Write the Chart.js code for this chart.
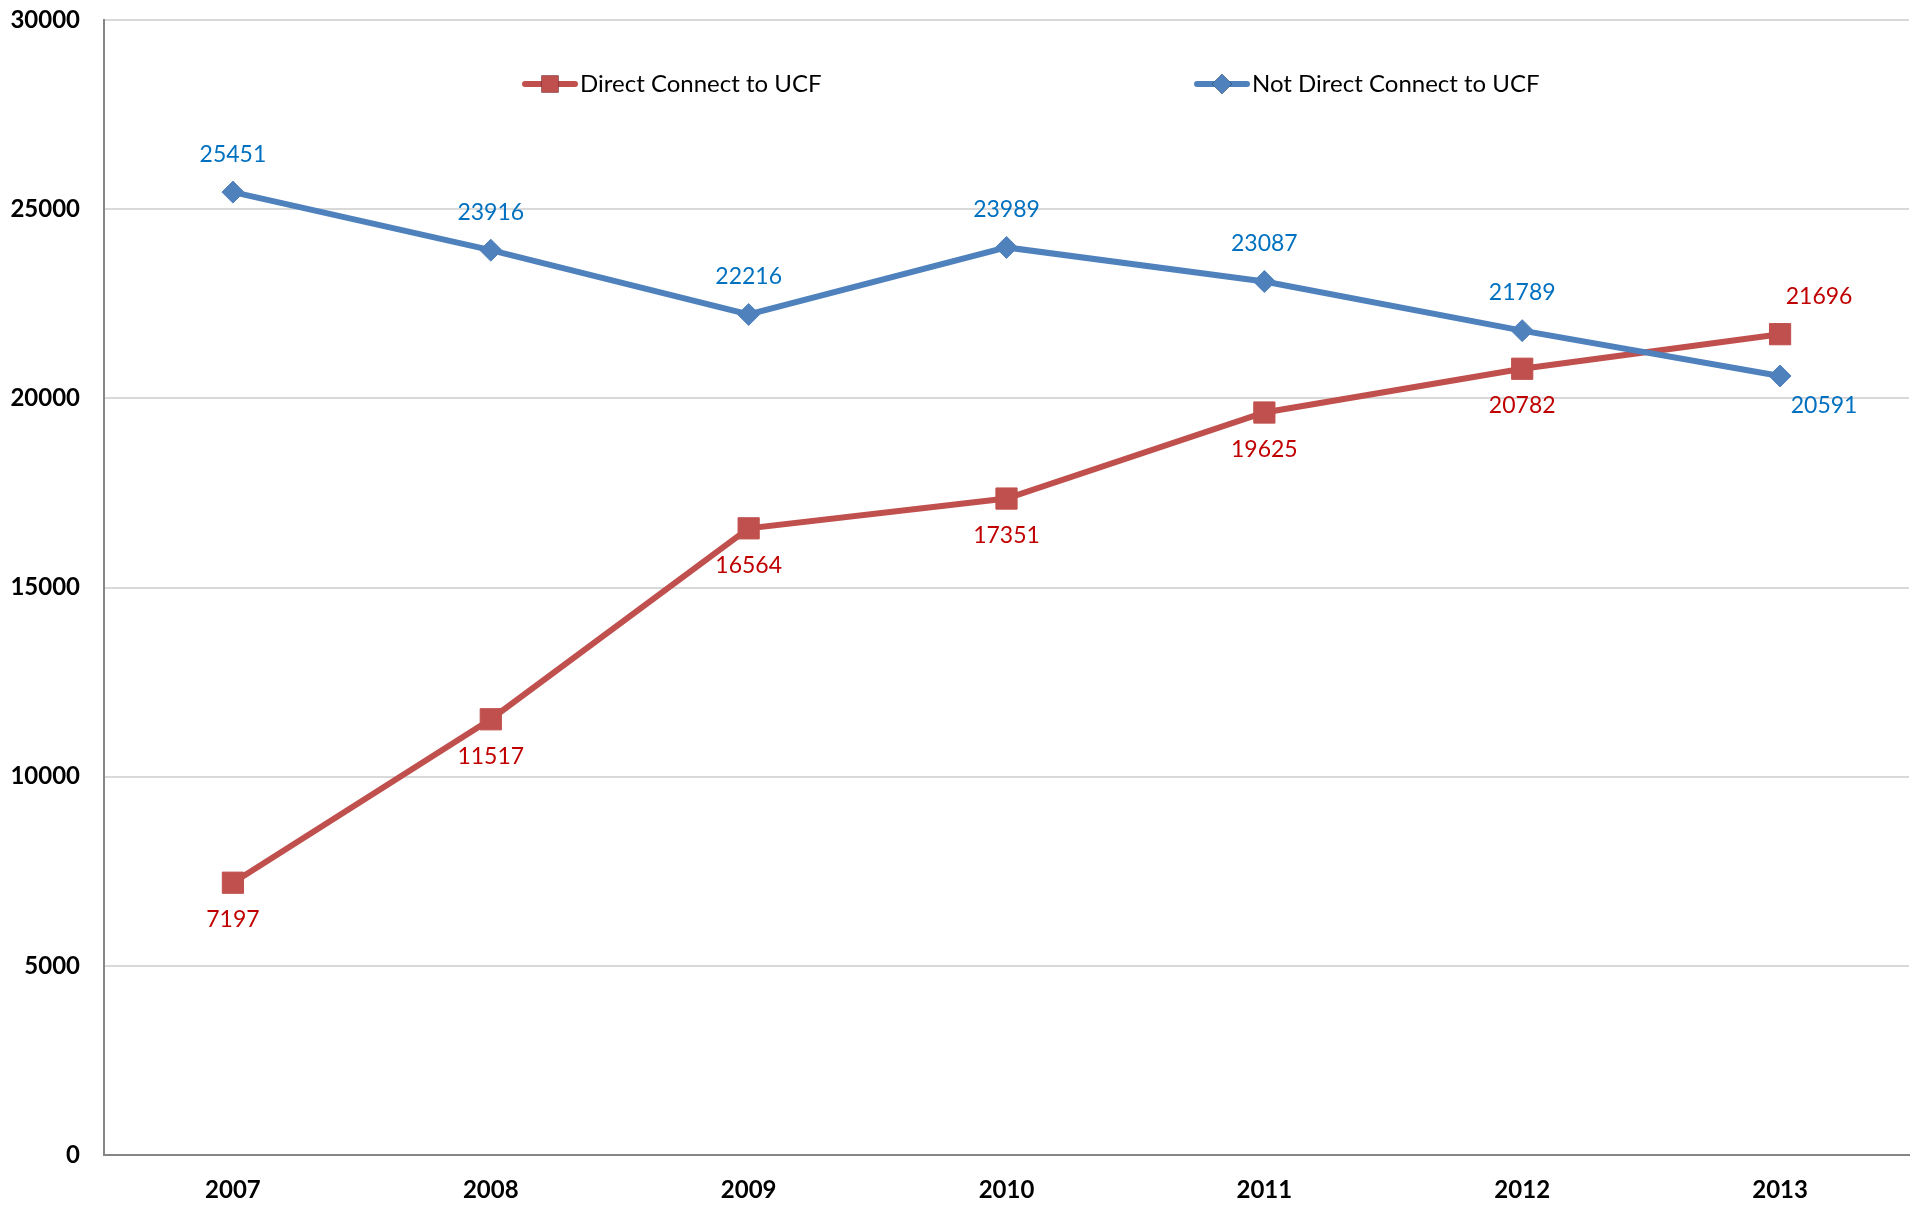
<!DOCTYPE html>
<html>
<head>
<meta charset="utf-8">
<title>Direct Connect to UCF</title>
<script src="https://cdn.jsdelivr.net/npm/chart.js@4.4.1/dist/chart.umd.min.js"></script>
<style>
	html, body { margin: 0; padding: 0; background: #fff; overflow: hidden; }
	#wrap { width: 1925px; height: 1205px; }
	canvas { display: block; }
</style>
</head>
<body>
<div id="wrap"><canvas id="chart"></canvas></div>
<script>
const years = ["2007", "2008", "2009", "2010", "2011", "2012", "2013"];
const direct = [7197, 11517, 16564, 17351, 19625, 20782, 21696];
const notDirect = [25451, 23916, 22216, 23989, 23087, 21789, 20591];
const yTicks = [0, 5000, 10000, 15000, 20000, 25000, 30000];

const redLine = "#C0504D";
const blueLine = "#4F81BD";
const redText = "#C00000";
const blueText = "#0070C0";
const fontFam = "Lato, 'Open Sans', sans-serif";

// value labels next to each point; last point of each series sits off to the right
const valueLabels = {
	id: "valueLabels",
	afterDatasetsDraw(chart) {
		const ctx = chart.ctx;
		ctx.save();
		ctx.font = "23px " + fontFam;
		ctx.textAlign = "center";
		ctx.textBaseline = "middle";
		chart.data.datasets.forEach((ds, di) => {
			const meta = chart.getDatasetMeta(di);
			const last = ds.data.length - 1;
			meta.data.forEach((pt, i) => {
				let dx = 0, dy;
				if (ds.labelSide === "above") {
					dy = i == last ? 30 : -38;
					if (i == last) { dx = 44; }
				} else {
					dy = i == last ? -38 : 37;
					if (i == last) { dx = 39; }
				}
				ctx.fillStyle = ds.labelColor;
				ctx.fillText(ds.data[i], pt.x + dx, pt.y + dy);
			});
		});
		ctx.restore();
	}
};

// legend drawn inside the plot area, like the original
const innerLegend = {
	id: "innerLegend",
	afterDraw(chart) {
		const ctx = chart.ctx;
		const items = [
			{ ds: chart.data.datasets[0], x: 522 },
			{ ds: chart.data.datasets[1], x: 1194 }
		];
		const y = 84;
		ctx.save();
		items.forEach(it => {
			ctx.strokeStyle = it.ds.borderColor;
			ctx.lineWidth = 6;
			ctx.lineCap = "round";
			ctx.beginPath();
			ctx.moveTo(it.x + 3, y);
			ctx.lineTo(it.x + 53, y);
			ctx.stroke();
			Chart.helpers.drawPoint(ctx, {
				pointStyle: it.ds.pointStyle,
				radius: it.ds.pointStyle === "rect" ? 12 : 10,
				borderWidth: 0
			}, it.x + 28, y);
			ctx.fillStyle = it.ds.borderColor;
			ctx.fill();
			ctx.fillStyle = "#000";
			ctx.font = "24px " + fontFam;
			ctx.textAlign = "left";
			ctx.textBaseline = "middle";
			ctx.fillText(it.ds.label, it.x + 58, y);
		});
		ctx.restore();
	}
};

window.addEventListener("load", () => {
	new Chart(document.getElementById("chart"), {
		type: "line",
		data: {
			labels: years,
			datasets: [{
				label: "Direct Connect to UCF",
				data: direct,
				borderColor: redLine,
				backgroundColor: redLine,
				borderWidth: 6,
				pointStyle: "rect",
				pointRadius: 15,
				pointBorderWidth: 1,
				tension: 0,
				order: 1,
				labelSide: "below",
				labelColor: redText
			}, {
				label: "Not Direct Connect to UCF",
				data: notDirect,
				borderColor: blueLine,
				backgroundColor: blueLine,
				borderWidth: 6,
				pointStyle: "rectRot",
				pointRadius: 11,
				pointBorderWidth: 1,
				tension: 0,
				order: 0,
				labelSide: "above",
				labelColor: blueText
			}]
		},
		options: {
			responsive: true,
			maintainAspectRatio: false,
			animation: false,
			layout: { padding: { top: 20, right: 10, left: 0, bottom: 0 } },
			scales: {
				x: {
					offset: true,
					grid: { display: false, drawTicks: false },
					border: { color: "#868686", width: 2 },
					ticks: {
						padding: 21,
						color: "#000",
						font: { family: fontFam, size: 24, weight: "bold" }
					},
					afterFit: s => {
						s.height = 50;
						s.paddingLeft = 0;
						s.paddingRight = 0;
					}
				},
				y: {
					min: 0,
					max: 30000,
					afterBuildTicks: s => { s.ticks = yTicks.map(v => ({ value: v })); },
					grid: { color: "#D9D9D9", lineWidth: 2, drawTicks: false },
					border: { color: "#868686", width: 2 },
					ticks: {
						padding: 24,
						color: "#000",
						font: { family: fontFam, size: 24, weight: "bold" },
						callback: v => String(v)
					},
					afterFit: s => {
						s.width = 104;
						s.paddingTop = 0;
						s.paddingBottom = 0;
					}
				}
			},
			plugins: {
				legend: { display: false },
				tooltip: { enabled: false }
			}
		},
		plugins: [valueLabels, innerLegend]
	});
});
</script>
</body>
</html>
